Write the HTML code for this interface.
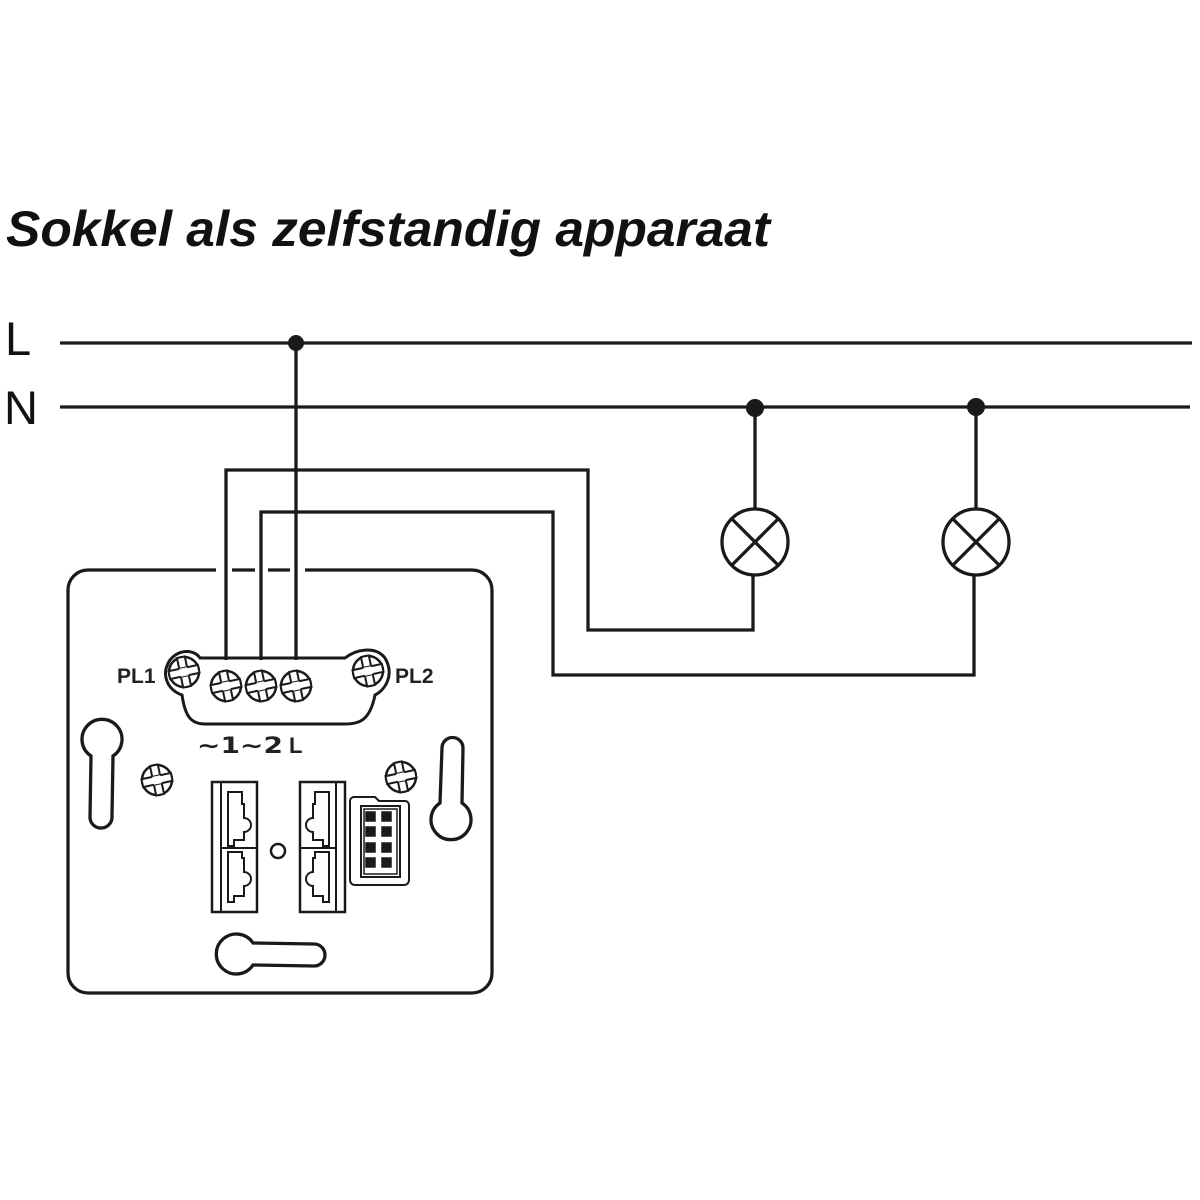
<!DOCTYPE html>
<html><head><meta charset="utf-8"><style>html,body{margin:0;padding:0;background:#fff}svg{display:block}</style></head>
<body>
<svg width="1200" height="1200" viewBox="0 0 1200 1200" xmlns="http://www.w3.org/2000/svg">
<defs>
<g id="scr">
<circle r="15" fill="#fff" stroke="#1a1a1a" stroke-width="2.5"/>
<g transform="rotate(-12)" fill="#fff" stroke="#1a1a1a" stroke-width="2">
<rect x="-4" y="-15" width="8" height="30"/>
<rect x="-15" y="-4" width="30" height="8"/>
<rect x="-4" y="-4" width="8" height="8" stroke="none"/>
</g>
</g>
<g id="conn" fill="none" stroke="#1a1a1a" stroke-width="2">
<rect x="0" y="0" width="45" height="130" stroke-width="2.5"/>
<line x1="9" y1="0" x2="9" y2="130"/>
<path d="M16,10 H30 V22 H32 V36 a7,7 0 0 1 0,14 V58 H22 V64 H16 Z"/>
<path d="M16,70 H30 V76 H32 V90 a7,7 0 0 1 0,14 V114 H22 V120 H16 Z"/>
<line x1="9" y1="66" x2="45" y2="66"/>
</g>
</defs>
<text x="6" y="246" font-family="Liberation Sans, sans-serif" font-size="50" font-weight="bold" font-style="italic" fill="#111" textLength="764" lengthAdjust="spacingAndGlyphs">Sokkel als zelfstandig apparaat</text>
<text x="5" y="355" font-family="Liberation Sans, sans-serif" font-size="47" fill="#111">L</text>
<text x="4" y="424" font-family="Liberation Sans, sans-serif" font-size="47" fill="#111">N</text>
<g stroke="#1a1a1a" stroke-width="3.3" fill="none">
<line x1="60" y1="343" x2="1192" y2="343"/>
<line x1="60" y1="407" x2="1190" y2="407"/>
<line x1="296" y1="343" x2="296" y2="660"/>
<path d="M226,660 V470 H588 V630 H753 V576"/>
<path d="M261,660 V512 H553 V675 H974 V576"/>
<line x1="755" y1="407" x2="755" y2="508"/>
<line x1="976" y1="407" x2="976" y2="508"/>
<circle cx="755" cy="542" r="33"/>
<circle cx="976" cy="542" r="33"/>
<path d="M732,519 L778,565 M778,519 L732,565"/>
<path d="M953,519 L999,565 M999,519 L953,565"/>
<path d="M216,570 H88 a20,20 0 0 0 -20,20 V973 a20,20 0 0 0 20,20 H472 a20,20 0 0 0 20,-20 V590 a20,20 0 0 0 -20,-20 H305"/>
<path d="M232,570 H255 M268,570 H290"/>
<path d="M200,658 H345 C355,650 375,645 385,658 C395,675 385,690 375,695 C370,720 360,724 345,724 H205 C190,724 185,715 182,695 C168,690 160,675 170,660 C180,648 195,650 200,658 Z" stroke-width="3"/>
<path d="M91,756 a20,20 0 1 1 22,0 L112,816 a11,11 0 0 1 -22,2 Z"/>
<path d="M462,803 a20,20 0 1 1 -22,0 L442,748 a10,10 0 0 1 21,0 Z"/>
<path d="M253,943 a20,20 0 1 0 0,22 L314,966 a11,11 0 0 0 0,-22 Z"/>
<circle cx="278" cy="851" r="7" stroke-width="2.5"/>
<path d="M350,801 a4,4 0 0 1 4,-4 H375 l4,4 H405 a4,4 0 0 1 4,4 V880 a5,5 0 0 1 -5,5 H355 a5,5 0 0 1 -5,-5 Z" stroke-width="2"/>
<rect x="361" y="806" width="39" height="71" stroke-width="2"/>
<rect x="364" y="809" width="33" height="65" stroke-width="1.5"/>
</g>
<g fill="#1a1a1a">
<circle cx="296" cy="343" r="8"/>
<circle cx="755" cy="408" r="9"/>
<circle cx="976" cy="407" r="9"/>
</g>
<g fill="#1a1a1a" stroke="#1a1a1a" stroke-width="1.5">
<rect x="366" y="812" width="9" height="9"/><rect x="382" y="812" width="9" height="9"/>
<rect x="366" y="827" width="9" height="9"/><rect x="382" y="827" width="9" height="9"/>
<rect x="366" y="843" width="9" height="9"/><rect x="382" y="843" width="9" height="9"/>
<rect x="366" y="858" width="9" height="9"/><rect x="382" y="858" width="9" height="9"/>
</g>
<use href="#scr" x="184" y="672"/>
<use href="#scr" x="226" y="686"/>
<use href="#scr" x="261" y="686"/>
<use href="#scr" x="296" y="686"/>
<use href="#scr" x="368" y="671"/>
<use href="#scr" x="157" y="780"/>
<use href="#scr" x="401" y="777"/>
<use href="#conn" x="212" y="782"/>
<g transform="translate(345,782) scale(-1,1)"><use href="#conn"/></g>
<text x="117" y="683" font-family="Liberation Sans, sans-serif" font-size="21" font-weight="bold" fill="#222">PL1</text>
<text x="395" y="683" font-family="Liberation Sans, sans-serif" font-size="21" font-weight="bold" fill="#222">PL2</text>
<text x="197" y="753" font-family="DejaVu Sans, sans-serif" font-size="22" font-weight="bold" fill="#222" textLength="86" lengthAdjust="spacingAndGlyphs">∼1∼2</text>
<text x="289" y="753" font-family="Liberation Sans, sans-serif" font-size="22" font-weight="bold" fill="#222">L</text>
</svg>
</body></html>
